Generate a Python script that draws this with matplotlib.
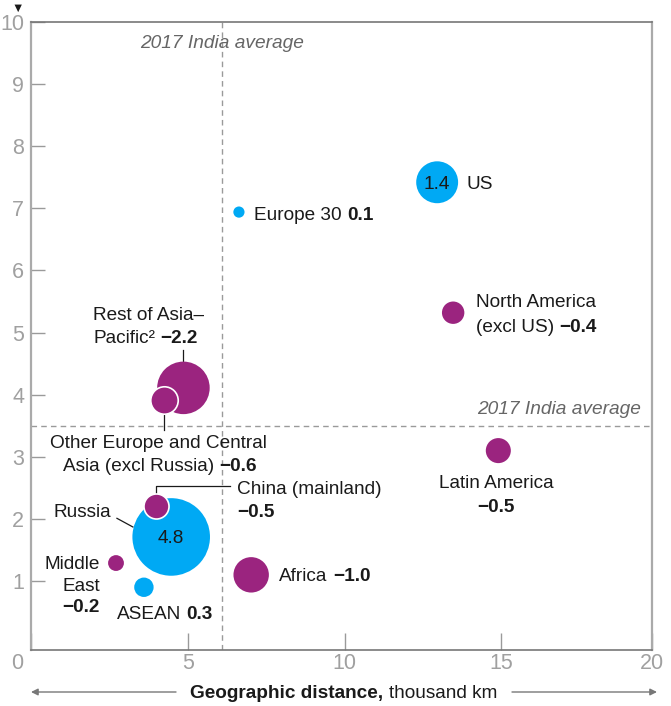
import matplotlib.pyplot as plt
from matplotlib.patches import FancyArrowPatch
from matplotlib.transforms import ScaledTranslation

plt.rcParams['font.family'] = ['Liberation Sans', 'DejaVu Sans']

# regions: geographic distance (thousand km), y position, bubble value
regions = ["Russia", "Rest of Asia-Pacific", "US", "Africa", "Other Europe",
           "Latin America", "North America", "China", "ASEAN", "Middle East",
           "Europe 30"]
distance = [4.47, 4.86, 12.95, 7.02, 4.24, 14.9, 13.46, 3.99, 3.6, 2.71, 6.63]
yvals = [1.71, 4.11, 7.42, 1.1, 3.92, 3.1, 5.32, 2.21, 0.9, 1.29, 6.94]
values = [4.8, -2.2, 1.4, -1.0, -0.6, -0.5, -0.4, -0.5, 0.3, -0.2, 0.1]

india_avg_x = 6.1
india_avg_y = 3.5

BLUE = '#00a9f4'
PURPLE = '#9b247f'
TEXT = '#1a1a1a'
GRID = '#9a9a9a'
VA = 'center_baseline'

fig = plt.figure(figsize=(6.71, 7.06), dpi=100)
ax = fig.add_axes([31 / 671, 56 / 706, 621 / 671, 628 / 706])
ax.set_xlim(0, 19.8)
ax.set_ylim(-0.11, 10)

ax.axvline(india_avg_x, color=GRID, lw=1, ls=(0, (4, 3)), zorder=1)
ax.axhline(india_avg_y, color=GRID, lw=1, ls=(0, (4, 3)), zorder=1)
ax.text(india_avg_x, 9.69, "2017 India average", ha='center', va=VA,
        style='italic', color='#666666', fontsize=13.8)
ax.text(19.45, 3.8, "2017 India average", ha='right', va=VA,
        style='italic', color='#666666', fontsize=13.8)

# bubbles: area proportional to the absolute value
for name, x, y, v in zip(regions, distance, yvals, values):
    color = BLUE if v > 0 else PURPLE
    edge = 'white' if name in ("Other Europe", "China") else 'none'
    ax.scatter(x, y, s=650 * abs(v), color=color, edgecolors=edge,
               linewidths=1.2, zorder=3)

FS = 13.7


def label(x, y, plain, bold=None, ha='left'):
    t = ax.text(x, y, plain, ha=ha, va=VA, color=TEXT, fontsize=FS)
    if bold:
        ax.annotate(bold, xy=(1, 0), xycoords=t, xytext=(4, 0),
                    textcoords='offset points', va='bottom', ha='left',
                    color=TEXT, fontsize=FS, fontweight='bold')
    return t


def value_only(x, y, text, ha='left'):
    ax.text(x, y, text, ha=ha, va=VA, color=TEXT, fontsize=FS,
            fontweight='bold')


# values written inside the two large blue bubbles
ax.text(distance[0], yvals[0], f"{values[0]}", ha='center', va=VA,
        color=TEXT, fontsize=FS, zorder=4)
ax.text(distance[2], yvals[2], f"{values[2]}", ha='center', va=VA,
        color=TEXT, fontsize=FS, zorder=4)

label(13.87, 7.41, "US")
label(7.11, 6.92, "Europe 30", "0.1")
label(14.19, 5.52, "North America")
label(14.19, 5.12, "(excl US)", "\u22120.4")
label(1.98, 5.31, "Rest of Asia\u2013")
label(1.98, 4.93, "Pacific\u00b2", "\u22122.2")
label(4.05, 3.24, "Other Europe and Central", ha='center')
label(1.02, 2.88, "Asia (excl Russia)", "\u22120.6")
label(2.55, 2.14, "Russia", ha='right')
label(6.57, 2.50, "China (mainland)")
value_only(6.57, 2.14, "\u22120.5")
label(2.2, 1.30, "Middle", ha='right')
label(2.2, 0.95, "East", ha='right')
value_only(2.2, 0.60, "\u22120.2", ha='right')
label(2.74, 0.50, "ASEAN", "0.3")
label(7.91, 1.10, "Africa", "\u22121.0")
label(14.83, 2.61, "Latin America", ha='center')
value_only(14.83, 2.22, "\u22120.5", ha='center')

# leader lines
lk = dict(color=TEXT, lw=0.9, zorder=2)
ax.plot([4.85, 4.85], [4.72, 4.53], **lk)
ax.plot([4.24, 4.24], [3.70, 3.43], **lk)
ax.plot([2.74, 3.25], [2.01, 1.87], **lk)
ax.plot([3.99, 3.99, 6.35], [2.38, 2.53, 2.53], **lk)

# spines and ticks
for side in ('left', 'right'):
    ax.spines[side].set_color('#aaaaaa')
    ax.spines[side].set_linewidth(1.6)
for side in ('top', 'bottom'):
    ax.spines[side].set_color('#777777')
    ax.spines[side].set_linewidth(1.2)

ax.set_yticks(range(1, 11))
ax.tick_params(axis='y', direction='in', length=10, width=1, color=GRID,
               pad=5, labelsize=15.5, labelcolor='#a0a0a0')
ax.set_xticks([0, 5, 10, 15, 19.8])
ax.set_xticklabels(['0', '5', '10', '15', '20'])
ax.tick_params(axis='x', direction='in', length=12, width=1, color=GRID,
               pad=2, labelsize=15.5, labelcolor='#a0a0a0')
xl = ax.get_xticklabels()
xl[0].set_transform(xl[0].get_transform()
                    + ScaledTranslation(-14 / 100, 0, fig.dpi_scale_trans))

# axis title with arrows at the bottom
ty = 1 - 692 / 706
fig.text(383 / 671, ty, "Geographic distance,", ha='right', va=VA,
         fontsize=FS, fontweight='bold', color=TEXT)
fig.text(389 / 671, ty, "thousand km", ha='left', va=VA,
         fontsize=FS, color=TEXT)
ap = dict(arrowstyle='-|>', color='#777777', lw=1, mutation_scale=10,
          shrinkA=0, shrinkB=0)
fig.add_artist(FancyArrowPatch((176 / 671, ty), (31 / 671, ty),
                               transform=fig.transFigure, **ap))
fig.add_artist(FancyArrowPatch((512 / 671, ty), (657 / 671, ty),
                               transform=fig.transFigure, **ap))

fig.text(18 / 671, 1 - 9 / 706, "\u25bc", ha='center', va='center',
         fontsize=9, color=TEXT)

fig.savefig("out.png", dpi=100)
